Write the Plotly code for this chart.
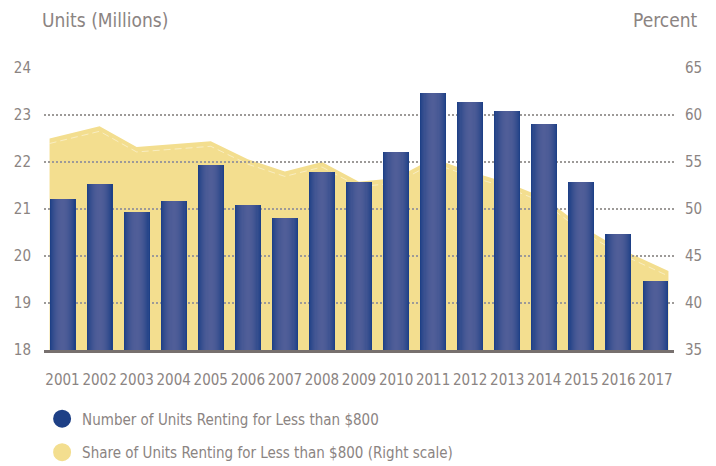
import plotly.graph_objects as go
import math

# ---- data ----
years = [2001, 2002, 2003, 2004, 2005, 2006, 2007, 2008, 2009,
         2010, 2011, 2012, 2013, 2014, 2015, 2016, 2017]
year_labels = [str(y) for y in years]
units_millions = [21.21, 21.53, 20.94, 21.17, 21.94, 21.09, 20.81, 21.79, 21.57,
                  22.21, 23.47, 23.28, 23.09, 22.81, 21.57, 20.47, 19.47]
share_pct = [57.5, 58.8, 56.6, 56.9, 57.2, 55.3, 54.0, 55.0, 52.9,
             53.3, 55.4, 54.0, 52.8, 51.2, 48.2, 45.85, 43.4]
left_ticks = [18, 19, 20, 21, 22, 23, 24]
right_ticks = [35, 40, 45, 50, 55, 60, 65]

# ---- style ----
FONT = "DejaVu Sans Condensed, Liberation Sans, sans-serif"
TEXT = "#8b8482"
YELLOW = "#f3de8f"
EDGE = (30, 64, 134)
CENTER = (80, 94, 152)
BAR_W = 0.70
GRID = "#9d9a98"
PLOT_H = 466 - 68 - 116
RIGHT_RANGE = [35, 65]
INSET_PX = 5
inset = INSET_PX * (RIGHT_RANGE[1] - RIGHT_RANGE[0]) / PLOT_H

fig = go.Figure()

area_x = list(years)
area_x[0] = years[0] - BAR_W / 2
area_x[-1] = years[-1] + BAR_W / 2
fig.add_trace(go.Scatter(
    x=area_x, y=share_pct, xaxis="x", yaxis="y",
    mode="lines", line=dict(width=0, color=YELLOW),
    fill="tozeroy", fillcolor=YELLOW, showlegend=False, hoverinfo="skip"))
# faint inner dashed highlight just below the top edge of the area
fig.add_trace(go.Scatter(
    x=area_x, y=share_pct, xaxis="x", yaxis="y3",
    mode="lines", line=dict(width=1, color="rgba(255,255,255,0.45)", dash="7px,4px"),
    showlegend=False, hoverinfo="skip"))

N = 12
for i in range(N):
    frac = 1 - i / N
    t = math.cos(frac * math.pi / 2) ** 0.8
    col = tuple(round(EDGE[k] + (CENTER[k] - EDGE[k]) * t) for k in range(3))
    fig.add_trace(go.Bar(
        x=years, y=units_millions, xaxis="x2", yaxis="y2",
        width=BAR_W * frac, marker=dict(color="rgb(%d,%d,%d)" % col, line=dict(width=0)),
        showlegend=False, hoverinfo="skip"))

fig.add_trace(go.Scatter(x=[None], y=[None], mode="markers", xaxis="x2", yaxis="y2",
                         marker=dict(symbol="circle", size=16, color="rgb(30,64,134)",
                                     line=dict(width=2, color="rgb(30,64,134)")),
                         name="Number of Units Renting for Less than $800",
                         legendgroup="a"))
fig.add_trace(go.Scatter(x=[None], y=[None], mode="markers", xaxis="x2", yaxis="y2",
                         marker=dict(symbol="circle", size=16, color=YELLOW,
                                     line=dict(width=2, color=YELLOW)),
                         name="Share of Units Renting for Less than $800 (Right scale)",
                         legendgroup="b"))

xr = [years[0] - 0.5, years[-1] + 0.5]
fig.update_layout(
    width=716, height=466,
    margin=dict(l=44, r=42, t=68, b=116, autoexpand=False),
    paper_bgcolor="white", plot_bgcolor="rgba(0,0,0,0)",
    barmode="overlay", bargap=0,
    font=dict(family=FONT, color=TEXT, size=15),
    xaxis=dict(domain=[0, 1], range=xr, anchor="y", tickmode="array",
               tickvals=years, ticktext=year_labels, showgrid=False,
               zeroline=False, showline=False, ticks="", tickangle=0,
               ticklabelstandoff=19, tickfont=dict(size=15, color=TEXT)),
    yaxis=dict(domain=[0, 1], range=RIGHT_RANGE, anchor="x", side="right",
               tickmode="array", tickvals=right_ticks, showgrid=False,
               zeroline=False, showline=False, ticks="",
               ticklabelstandoff=10, tickfont=dict(size=15, color=TEXT)),
    yaxis3=dict(domain=[0, 1], range=[RIGHT_RANGE[0] + inset, RIGHT_RANGE[1] + inset],
                overlaying="y", visible=False),
    xaxis2=dict(domain=[0, 1], range=xr, anchor="y2", matches="x",
                showticklabels=False, showgrid=False, zeroline=False,
                showline=True, linewidth=3, linecolor="#77706e", ticks="",
                layer="above traces"),
    yaxis2=dict(domain=[0, 1], range=[18, 24], anchor="x2", side="left",
                tickmode="array", tickvals=left_ticks, showgrid=True,
                gridcolor=GRID, gridwidth=1.5, griddash="2px,2px",
                zeroline=False, showline=False, ticks="",
                ticklabelstandoff=12, tickfont=dict(size=15, color=TEXT)),
    legend=dict(x=-0.003, y=-0.186, xanchor="left", yanchor="top", orientation="v",
                font=dict(size=15, color=TEXT), tracegroupgap=11,
                bgcolor="rgba(0,0,0,0)", itemsizing="trace"),
    annotations=[
        dict(text="Units (Millions)", xref="paper", yref="paper",
             x=-0.006, y=1.0, yshift=48, xanchor="left", yanchor="middle",
             showarrow=False, font=dict(size=19, color=TEXT)),
        dict(text="Percent", xref="paper", yref="paper",
             x=1.0, y=1.0, xshift=26, yshift=48, xanchor="right", yanchor="middle",
             showarrow=False, font=dict(size=19, color=TEXT)),
    ],
)

fig.write_html("out.html", config={"displayModeBar": False},
               post_script="document.body.style.margin='0';")
